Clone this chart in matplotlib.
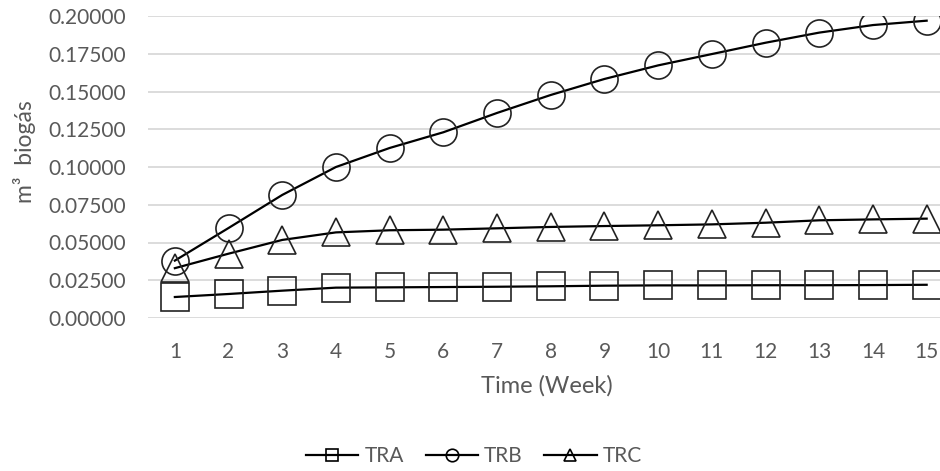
import matplotlib
matplotlib.use("Agg")
import matplotlib.pyplot as plt
from matplotlib.lines import Line2D
import numpy as np

plt.rcParams["font.family"] = ["Lato", "DejaVu Sans"]

weeks = np.arange(1, 16)
tra = [0.0139, 0.0159, 0.0181, 0.0201, 0.0203, 0.0205, 0.0207, 0.0210,
       0.0214, 0.0216, 0.0216, 0.0217, 0.0217, 0.0218, 0.0220]
trb = [0.0380, 0.0596, 0.0815, 0.1000, 0.1126, 0.1230, 0.1358, 0.1477,
       0.1583, 0.1673, 0.1748, 0.1823, 0.1890, 0.1940, 0.1969]
trc = [0.0330, 0.0426, 0.0517, 0.0567, 0.0581, 0.0585, 0.0594, 0.0603,
       0.0609, 0.0614, 0.0620, 0.0631, 0.0647, 0.0653, 0.0658]
yticks = [0, 0.025, 0.05, 0.075, 0.1, 0.125, 0.15, 0.175, 0.2]

W, H = 940, 471
fig = plt.figure(figsize=(W / 100, H / 100), dpi=100)
# plot area in pixels: left 148, right 940, top 16, bottom 318
ax = fig.add_axes([148 / W, 1 - 318 / H, (940 - 148) / W, (318 - 16) / H])

grey = "#595959"
for vals, mk in [(tra, "s"), (trb, "o"), (trc, "^")]:
    ax.plot(weeks, vals, color="black", lw=1.6, zorder=3)
    ax.plot(weeks, vals, ls="none", marker=mk, ms=19.5, mfc="none",
            mec="#222222", mew=1.2, zorder=4)

ax.set_xlim(0.5, 0.5 + (940 - 148) / 53.7)
ax.set_ylim(0, 0.2)
ax.set_yticks(yticks)
ax.set_yticklabels([f"{v:.5f}" for v in yticks])
ax.set_xticks(weeks)
ax.tick_params(length=0, labelsize=15, colors=grey)
ax.tick_params(axis="x", pad=17)
ax.tick_params(axis="y", pad=15.5)
ax.grid(axis="y", color="#d9d9d9", lw=1.3)
ax.set_axisbelow(True)
for s in ax.spines.values():
    s.set_visible(False)

fig.text(24 / W, 1 - 152 / H, "m³  biogás", rotation=90, ha="center",
         va="center", fontsize=16.5, color=grey)
fig.text(547 / W, 1 - 386 / H, "Time (Week)", ha="center", va="center",
         fontsize=17, color=grey)

handles = [Line2D([], [], color="black", lw=1.6, marker=m, ms=9, mfc="none",
                  mec="black", mew=1.2) for m in ["s", "o", "^"]]
fig.legend(handles, ["TRA", "TRB", "TRC"], loc="center",
           bbox_to_anchor=(474 / W, 1 - 456 / H), ncol=3, frameon=False,
           fontsize=15, labelcolor=grey, handlelength=2.5, handletextpad=0.3,
           columnspacing=1.05, borderpad=0, borderaxespad=0)

fig.savefig("out.png", dpi=100)
